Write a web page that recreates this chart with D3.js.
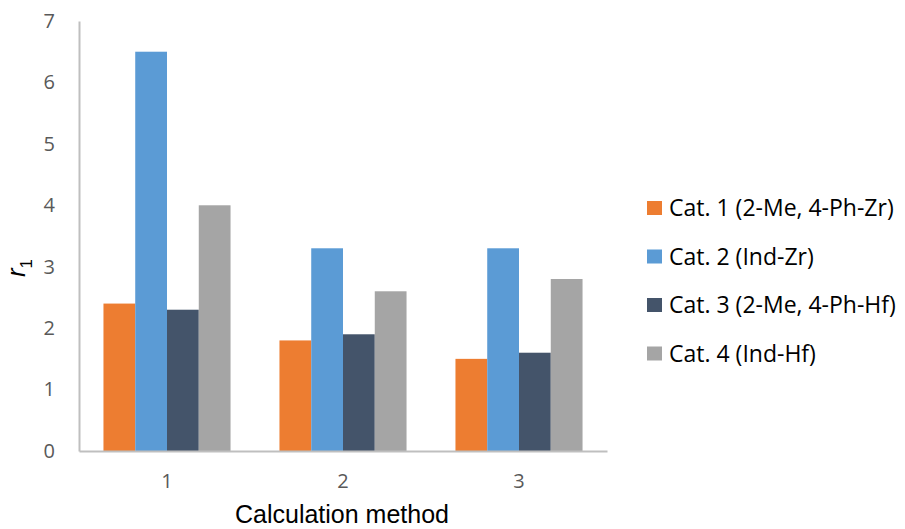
<!DOCTYPE html>
<html><head><meta charset="utf-8">
<script src="https://cdn.jsdelivr.net/npm/d3@7"></script>
<style>body{margin:0;background:#fff}</style>
</head><body>
<svg id="c" width="905" height="529"></svg>
<script>
const categories = ["1", "2", "3"];
const seriesNames = ["Cat. 1 (2-Me, 4-Ph-Zr)", "Cat. 2 (Ind-Zr)", "Cat. 3 (2-Me, 4-Ph-Hf)", "Cat. 4 (Ind-Hf)"];
const cat1 = [2.4, 1.8, 1.5];
const cat2 = [6.5, 3.3, 3.3];
const cat3 = [2.3, 1.9, 1.6];
const cat4 = [4.0, 2.6, 2.8];
const yTicks = [0, 1, 2, 3, 4, 5, 6, 7];
const colors = ["#ed7d31", "#5b9bd5", "#44546a", "#a5a5a5"];
const series = [cat1, cat2, cat3, cat4];

const svg = d3.select("#c");
const pLeft = 79, pRight = 607, pTop = 21, pBottom = 451;
const x = d3.scaleBand().domain(categories).range([pLeft, pRight]).paddingInner(0.278).paddingOuter(0.139);
const x1 = d3.scaleBand().domain(d3.range(4)).range([0, x.bandwidth()]);
const y = d3.scaleLinear().domain([0, 7]).range([pBottom, pTop]);
const font = "Liberation Sans, Arial, sans-serif";
const cfont = "Open Sans, Noto Sans, sans-serif";

// bars
categories.forEach((c, i) => {
  series.forEach((s, j) => {
    svg.append("rect")
      .attr("x", x(c) + x1(j))
      .attr("width", x1.bandwidth())
      .attr("y", y(s[i]))
      .attr("height", y(0) - y(s[i]))
      .attr("fill", colors[j]);
  });
});

// axes
const yAxis = svg.append("g").attr("transform", `translate(${pLeft},0)`)
  .call(d3.axisLeft(y).tickValues(yTicks).tickSize(0).tickPadding(24).tickFormat(d3.format("d")));
yAxis.select(".domain").attr("stroke", "#bfbfbf").attr("stroke-width", 2);
yAxis.selectAll("text").attr("font-family", cfont).attr("font-size", 20).attr("fill", "#595959");

const xAxis = svg.append("g").attr("transform", `translate(0,${pBottom})`)
  .call(d3.axisBottom(x).tickSize(0).tickPadding(23));
xAxis.select(".domain").attr("stroke", "#bfbfbf").attr("stroke-width", 2);
xAxis.selectAll("text").attr("font-family", cfont).attr("font-size", 20).attr("fill", "#595959");

// axis titles
svg.append("text").attr("x", (pLeft + pRight) / 2 - 1).attr("y", 523)
  .attr("text-anchor", "middle").attr("font-family", font).attr("font-size", 25).attr("fill", "#000")
  .text("Calculation method");

const yt = svg.append("text").attr("transform", "translate(25,268) rotate(-90)")
  .attr("text-anchor", "middle").attr("font-family", font).attr("font-size", 26).attr("fill", "#000");
yt.append("tspan").attr("font-style", "italic").text("r");
yt.append("tspan").attr("font-size", 17).attr("dy", 7).text("1");

// legend
const lg = svg.append("g");
seriesNames.forEach((n, j) => {
  const cy = 208 + j * 48.5;
  lg.append("rect").attr("x", 647).attr("y", cy - 7).attr("width", 15).attr("height", 14).attr("fill", colors[j]);
  lg.append("text").attr("x", 669).attr("y", cy).attr("dy", "0.36em")
    .attr("font-family", cfont).attr("font-size", 23).attr("fill", "#000").text(n);
});
</script>
</body></html>
